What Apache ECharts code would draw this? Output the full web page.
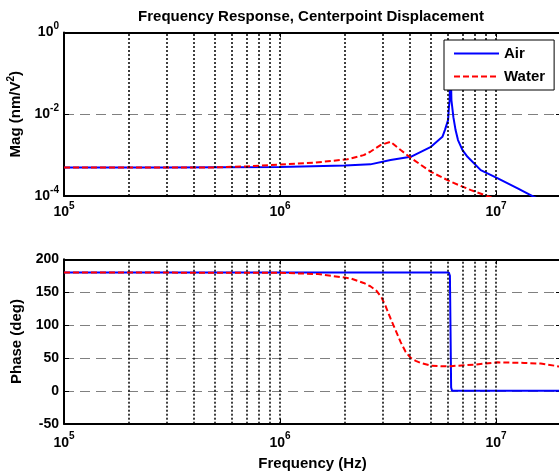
<!DOCTYPE html>
<html>
<head>
<meta charset="utf-8">
<script src="https://cdn.jsdelivr.net/npm/echarts@6/dist/echarts.min.js"></script>
<style>
html,body{margin:0;padding:0;background:#fff;overflow:hidden;}
#chart{width:559px;height:472px;}
</style>
</head>
<body>
<div id="chart"></div>
<script>
// ---- data ----
const titleText = 'Frequency Response, Centerpoint Displacement';
const seriesNames = ['Air', 'Water'];
const xTickExponents = [5, 6, 7];
const magTickExponents = [-4, -2, 0];
const phaseTicks = [-50, 0, 50, 100, 150, 200];
const minorGridFreqs = [2e5, 3e5, 4e5, 5e5, 6e5, 7e5, 8e5, 9e5, 1e6,
                        2e6, 3e6, 4e6, 5e6, 6e6, 7e6, 8e6, 9e6, 1e7];

const freqAirMag = [1e5, 3e5, 1e6, 2e6, 2.62e6, 3.25e6, 4.03e6, 5e6, 5.65e6, 5.8e6, 6.0e6, 6.05e6, 6.1e6,
                    6.15e6, 6.22e6, 6.35e6, 6.5e6, 6.67e6, 7.0e6, 7.38e6, 8.5e6, 1.02e7, 1.26e7, 1.5e7, 2e7];
const magAir = [5.0e-4, 5.0e-4, 5.1e-4, 5.6e-4, 5.94e-4, 7.6e-4, 9.1e-4, 1.6e-3, 2.8e-3, 4.1e-3, 7.2e-3, 0.014, 0.022,
                0.3, 0.022, 8.5e-3, 4.1e-3, 2.33e-3, 1.33e-3, 9.1e-4, 4.3e-4, 2.7e-4, 1.53e-4, 9.5e-5, 5e-5];

const freqWaterMag = [1e5, 5e5, 7e5, 1e6, 1.43e6, 2.05e6, 2.44e6, 2.62e6, 2.92e6, 3.25e6, 3.62e6, 4.03e6,
                      5e6, 6.18e6, 7.67e6, 9.1e6, 1.2e7];
const magWater = [5.0e-4, 5.0e-4, 5.3e-4, 5.9e-4, 6.5e-4, 7.9e-4, 1.0e-3, 1.21e-3, 1.76e-3, 2.12e-3, 1.33e-3, 8.6e-4,
                  3.9e-4, 2.23e-4, 1.39e-4, 1.0e-4, 6e-5];

const freqAirPhase = [1e5, 6.05e6, 6.12e6, 6.16e6, 6.2e6, 6.26e6, 2e7];
const phaseAir = [180, 180, 175, 90, 5, 0, 0];

const freqWaterPhase = [1e5, 1e6, 1.5e6, 2.12e6, 2.44e6, 2.62e6, 2.8e6, 2.95e6, 3.08e6, 3.25e6, 3.43e6, 3.62e6,
                        3.82e6, 4.03e6, 4.25e6, 4.48e6, 5e6, 5.55e6, 6.18e6, 7.9e6, 1.02e7, 1.35e7, 1.61e7, 1.86e7, 2e7];
const phaseWater = [180, 179.5, 177.5, 171, 164, 159, 152, 142, 129, 110, 92, 74,
                    59, 50, 45.5, 42.4, 38.3, 37.3, 37.5, 39.8, 43.3, 42.4, 41.4, 38.3, 36.5];

// ---- chart ----
const FONT = "'Liberation Sans', Arial, Helvetica, sans-serif";
const pairs = (xs, ys) => xs.map((x, i) => [x, ys[i]]);
const powRich = {
  b: {fontSize: 14, fontWeight: 'bold', fontFamily: FONT, color: '#000'},
  s: {fontSize: 10, fontWeight: 'bold', fontFamily: FONT, color: '#000', padding: [0, 0, 12, 0]}
};
function expOf(v) {
  const e = Math.log10(v);
  const r = Math.round(e);
  return Math.abs(e - r) < 1e-6 ? r : null;
}
function xFmt(v) {
  const e = expOf(v);
  return (e !== null && xTickExponents.indexOf(e) >= 0) ? '{b|10}{s|' + e + '}' : '';
}
function magFmt(v) {
  const e = expOf(v);
  return (e !== null && magTickExponents.indexOf(e) >= 0) ? '{b|10}{s|' + e + '}' : '';
}
function phaseFmt(v) {
  return phaseTicks.indexOf(v) >= 0 ? String(v) : '';
}
const axisLine = {show: true, onZero: false, lineStyle: {color: '#000', width: 2}};
const tick = {show: true, inside: true, length: 5, lineStyle: {color: '#000', width: 1}};
const gridDash = {show: true, lineStyle: {color: '#808080', type: [10, 6], width: 1}};

const GL = 64, GW = 497;
const grids = [
  {left: GL, top: 32.5, width: GW, height: 163.5, containLabel: false, outerBoundsMode: 'none'},
  {left: GL, top: 259.3, width: GW, height: 164.4, containLabel: false, outerBoundsMode: 'none'}
];

function xAxes(gi, withName, margin) {
  return [
    {type: 'log', logBase: 10, gridIndex: gi, position: 'bottom', min: 1e5, max: 2e7,
     axisLine, axisTick: tick, splitLine: {show: false},
     axisLabel: {formatter: xFmt, rich: powRich, margin: margin, showMinLabel: true, showMaxLabel: true, hideOverlap: false},
     name: withName ? 'Frequency (Hz)' : '', nameLocation: 'middle', nameGap: 33,
     nameTextStyle: {fontSize: 15, fontWeight: 'bold', fontFamily: FONT, color: '#000'}},
    {type: 'log', logBase: 10, gridIndex: gi, position: 'top', min: 1e5, max: 2e7,
     axisLine, axisTick: tick, splitLine: {show: false}, axisLabel: {show: false}}
  ];
}

const option = {
  animation: false,
  backgroundColor: '#fff',
  title: {
    text: titleText, left: 311, top: 9, textAlign: 'center', padding: 0,
    textStyle: {fontSize: 15, fontWeight: 'bold', fontFamily: FONT, color: '#000'}
  },
  legend: {
    data: seriesNames, orient: 'vertical', left: 444, top: 40,
    backgroundColor: '#fff', borderColor: '#000', borderWidth: 1, borderRadius: 0,
    padding: [6, 9, 6, 9], itemWidth: 45, itemHeight: 14, itemGap: 8,
    itemStyle: {opacity: 0},
    textStyle: {fontSize: 15, fontWeight: 'bold', fontFamily: FONT, color: '#000'},
    z: 10
  },
  grid: grids,
  xAxis: [...xAxes(0, false, 5), ...xAxes(1, true, 8)],
  yAxis: [
    {type: 'log', logBase: 10, gridIndex: 0, position: 'left', min: 1e-4, max: 1, interval: 2, splitNumber: 2,
     axisLine, axisTick: tick, splitLine: gridDash,
     axisLabel: {formatter: magFmt, rich: powRich, margin: 5, showMinLabel: true, showMaxLabel: true},
     name: '{t|Mag (nm/V}{s|2}{t|)}', nameLocation: 'middle', nameGap: 38, nameRotate: 90,
     nameTextStyle: {rich: {
       t: {fontSize: 15, fontWeight: 'bold', fontFamily: FONT, color: '#000'},
       s: {fontSize: 10, fontWeight: 'bold', fontFamily: FONT, color: '#000', padding: [0, 0, 10, 0]}}}},
    {type: 'log', logBase: 10, gridIndex: 0, position: 'right', min: 1e-4, max: 1, interval: 2, splitNumber: 2,
     axisLine, axisTick: tick, splitLine: {show: false}, axisLabel: {show: false}},
    {type: 'value', gridIndex: 1, position: 'left', min: -50, max: 200, interval: 50,
     axisLine, axisTick: tick, splitLine: gridDash,
     axisLabel: {formatter: phaseFmt, margin: 5, fontSize: 14, fontWeight: 'bold', fontFamily: FONT, color: '#000'},
     name: 'Phase (deg)', nameLocation: 'middle', nameGap: 38, nameRotate: 90,
     nameTextStyle: {fontSize: 15, fontWeight: 'bold', fontFamily: FONT, color: '#000'}},
    {type: 'value', gridIndex: 1, position: 'right', min: -50, max: 200, interval: 50,
     axisLine, axisTick: tick, splitLine: {show: false}, axisLabel: {show: false}}
  ],
  series: [
    {name: 'gridlines0', type: 'line', xAxisIndex: 0, yAxisIndex: 0, data: [], z: 1, silent: true,
     markLine: {silent: true, symbol: 'none', label: {show: false}, animation: false,
       lineStyle: {color: '#000', type: [2, 2], width: 1.5},
       data: minorGridFreqs.map(f => ({xAxis: f}))}},
    {name: 'gridlines1', type: 'line', xAxisIndex: 2, yAxisIndex: 2, data: [], z: 1, silent: true,
     markLine: {silent: true, symbol: 'none', label: {show: false}, animation: false,
       lineStyle: {color: '#000', type: [2, 2], width: 1.5},
       data: minorGridFreqs.map(f => ({xAxis: f}))}},
    {name: 'Air', type: 'line', xAxisIndex: 0, yAxisIndex: 0, data: pairs(freqAirMag, magAir),
     showSymbol: false, symbol: 'none', z: 3, clip: true,
     lineStyle: {color: '#0000ff', width: 2}, itemStyle: {color: '#0000ff'}},
    {name: 'Water', type: 'line', xAxisIndex: 0, yAxisIndex: 0, data: pairs(freqWaterMag, magWater),
     showSymbol: false, symbol: 'none', z: 4, clip: true,
     lineStyle: {color: '#ff0000', width: 2, type: [6, 3]}, itemStyle: {color: '#ff0000'}},
    {name: 'Air', type: 'line', xAxisIndex: 2, yAxisIndex: 2, data: pairs(freqAirPhase, phaseAir),
     showSymbol: false, symbol: 'none', z: 3, clip: true,
     lineStyle: {color: '#0000ff', width: 2}, itemStyle: {color: '#0000ff'}},
    {name: 'Water', type: 'line', xAxisIndex: 2, yAxisIndex: 2, data: pairs(freqWaterPhase, phaseWater),
     showSymbol: false, symbol: 'none', z: 4, clip: true,
     lineStyle: {color: '#ff0000', width: 2, type: [6, 3]}, itemStyle: {color: '#ff0000'}}
  ]
};
const chart = echarts.init(document.getElementById('chart'), null, {renderer: 'canvas'});
chart.setOption(option);
</script>
</body>
</html>
